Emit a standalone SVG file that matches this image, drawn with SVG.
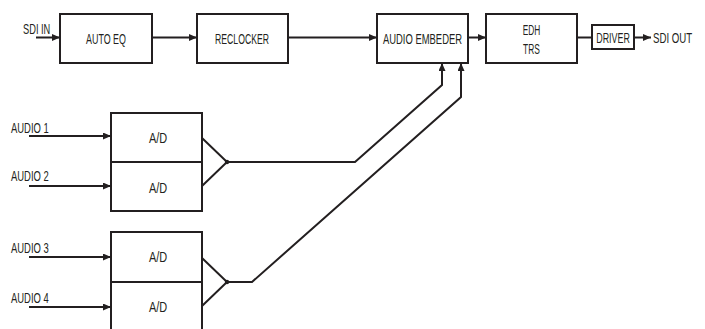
<svg xmlns="http://www.w3.org/2000/svg" width="705" height="329" viewBox="0 0 705 329">
<defs>
<marker id="ah" markerUnits="userSpaceOnUse" markerWidth="9" markerHeight="8" refX="8" refY="3.5" orient="auto">
<path d="M0,0 L8,3.5 L0,7 z" fill="#231f20"/>
</marker>
</defs>
<style>
.box{fill:#fff;stroke:#231f20;stroke-width:2}
.ln{fill:none;stroke:#231f20;stroke-width:2}
.t{font-family:"Liberation Sans",Arial,sans-serif;font-size:14.5px;fill:#231f20}
.c{text-anchor:middle}
</style>
<rect width="705" height="329" fill="#fff"/>
<g id="autoeq"><rect class="box" x="60" y="14" width="92" height="49"/><text class="t c" transform="translate(106,44) scale(0.7,1)" textLength="57" lengthAdjust="spacingAndGlyphs">AUTO EQ</text></g>
<g id="reclocker"><rect class="box" x="197" y="14" width="91" height="49"/><text class="t c" transform="translate(242,44) scale(0.7,1)" textLength="77" lengthAdjust="spacingAndGlyphs">RECLOCKER</text></g>
<g id="embedder"><rect class="box" x="377" y="14" width="91" height="49"/><text class="t c" transform="translate(422.5,43.5) scale(0.7,1)" textLength="113" lengthAdjust="spacingAndGlyphs">AUDIO EMBEDER</text></g>
<g id="edh"><rect class="box" x="486" y="14" width="91" height="49"/><text class="t c" transform="translate(531.5,35) scale(0.7,1)" textLength="25" lengthAdjust="spacingAndGlyphs">EDH</text><text class="t c" transform="translate(531.5,54) scale(0.7,1)" textLength="24" lengthAdjust="spacingAndGlyphs">TRS</text></g>
<g id="driver"><rect class="box" x="592" y="25" width="42" height="24"/><text class="t c" transform="translate(613,43) scale(0.7,1)" textLength="48" lengthAdjust="spacingAndGlyphs">DRIVER</text></g>
<g id="ad12"><rect class="box" x="111" y="113" width="91" height="49"/><rect class="box" x="111" y="162" width="91" height="49"/><text class="t c" transform="translate(158,143) scale(0.7,1)" textLength="26" lengthAdjust="spacingAndGlyphs">A/D</text><text class="t c" transform="translate(158,193) scale(0.7,1)" textLength="26" lengthAdjust="spacingAndGlyphs">A/D</text></g>
<g id="ad34"><rect class="box" x="111" y="232" width="91" height="50"/><rect class="box" x="111" y="282" width="91" height="50"/><text class="t c" transform="translate(158,262) scale(0.7,1)" textLength="26" lengthAdjust="spacingAndGlyphs">A/D</text><text class="t c" transform="translate(158,312) scale(0.7,1)" textLength="26" lengthAdjust="spacingAndGlyphs">A/D</text></g>
<g id="labels">
<text class="t" transform="translate(23,34) scale(0.7,1)" textLength="39" lengthAdjust="spacingAndGlyphs">SDI IN</text>
<text class="t" transform="translate(653,43) scale(0.7,1)" textLength="56" lengthAdjust="spacingAndGlyphs">SDI OUT</text>
<text class="t" transform="translate(11,133) scale(0.7,1)" textLength="54" lengthAdjust="spacingAndGlyphs">AUDIO 1</text>
<text class="t" transform="translate(11,181) scale(0.7,1)" textLength="54" lengthAdjust="spacingAndGlyphs">AUDIO 2</text>
<text class="t" transform="translate(11,253) scale(0.7,1)" textLength="54" lengthAdjust="spacingAndGlyphs">AUDIO 3</text>
<text class="t" transform="translate(11,303) scale(0.7,1)" textLength="54" lengthAdjust="spacingAndGlyphs">AUDIO 4</text>
</g>
<g id="connectors">
<line class="ln" x1="36" y1="37.5" x2="60" y2="37.5" marker-end="url(#ah)"/>
<line class="ln" x1="152" y1="37.5" x2="197" y2="37.5" marker-end="url(#ah)"/>
<line class="ln" x1="288" y1="37.5" x2="377" y2="37.5" marker-end="url(#ah)"/>
<line class="ln" x1="468" y1="37.5" x2="486" y2="37.5" marker-end="url(#ah)"/>
<line class="ln" x1="577" y1="37.5" x2="592" y2="37.5"/>
<line class="ln" x1="634" y1="37.5" x2="651" y2="37.5" marker-end="url(#ah)"/>
<line class="ln" x1="29" y1="136" x2="111" y2="136" marker-end="url(#ah)"/>
<line class="ln" x1="29" y1="186" x2="111" y2="186" marker-end="url(#ah)"/>
<line class="ln" x1="29" y1="257" x2="111" y2="257" marker-end="url(#ah)"/>
<line class="ln" x1="29" y1="307" x2="111" y2="307" marker-end="url(#ah)"/>
<polyline class="ln" points="202,138 227,162 202,186"/>
<polyline class="ln" points="202,258 227,282 202,306"/>
<circle cx="227" cy="162" r="2.2" fill="#231f20"/>
<circle cx="227" cy="282" r="2.2" fill="#231f20"/>
<polyline class="ln" points="227,162 355,162 442,85 442,63" marker-end="url(#ah)"/>
<polyline class="ln" points="227,282 252,282 461,97 461,63" marker-end="url(#ah)"/>
</g>
</svg>
